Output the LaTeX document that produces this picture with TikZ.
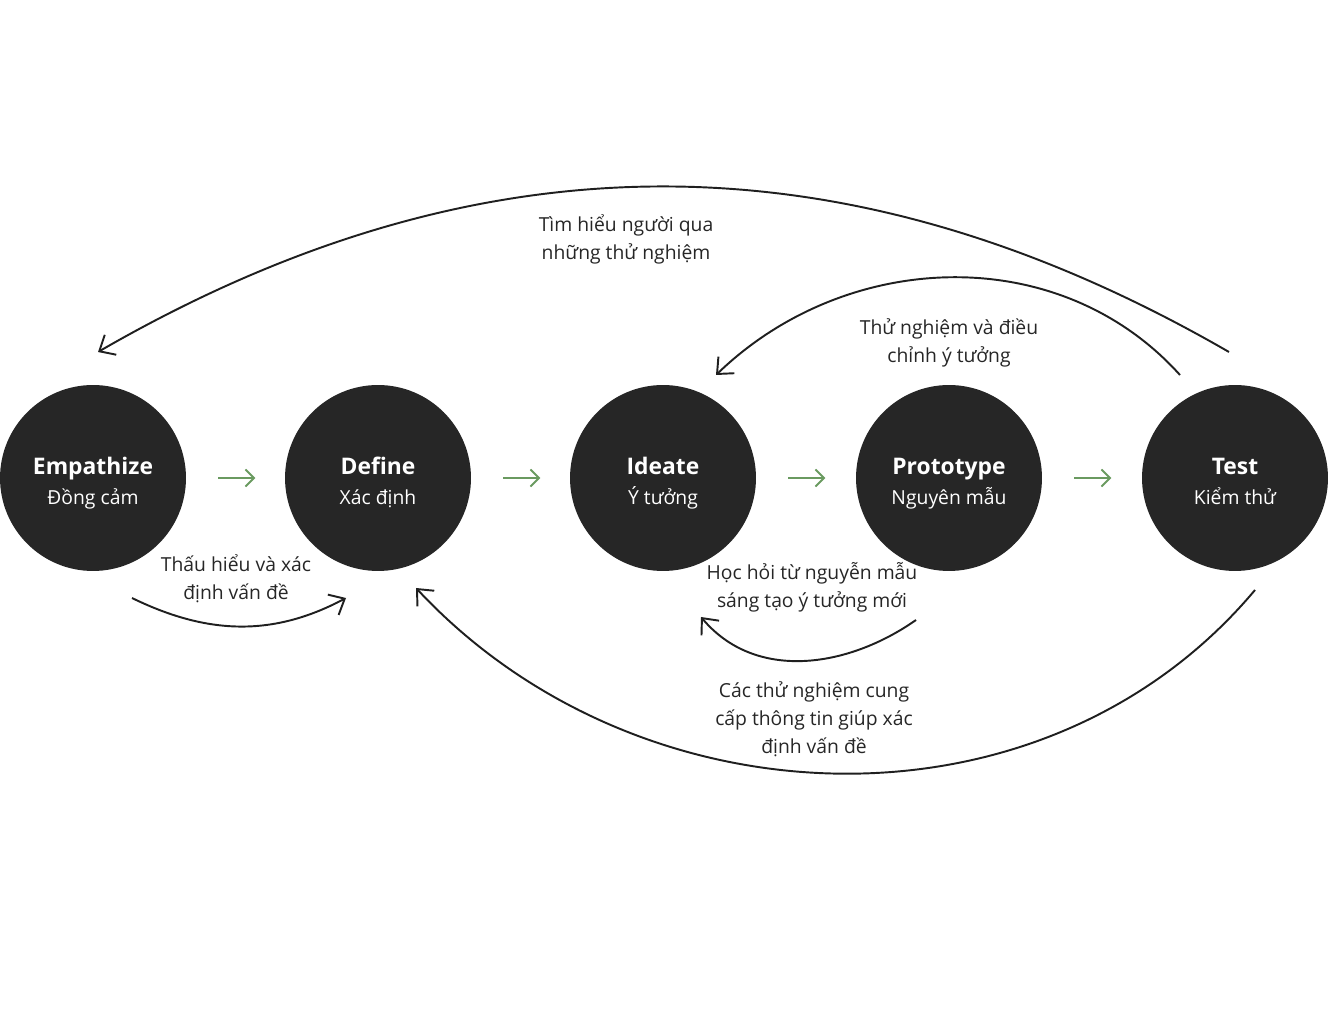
\documentclass[tikz,border=0pt]{standalone}
\usepackage{fontspec}
\setmainfont{Open Sans}
\usetikzlibrary{arrows.meta}
\definecolor{stage}{HTML}{262626}
\definecolor{flow}{HTML}{6A9A60}
\newcommand{\stagetext}[2]{\rule{0pt}{16.6pt}{\fontsize{13}{17.6}\selectfont\bfseries #1}\\#2\rule[-3.5pt]{0pt}{3.5pt}}
\tikzstyle{arrow} = [-{Straight Barb[length=2.6mm,width=4.6mm,line width=1.1pt]},line width=1.1pt,black!88]
\tikzstyle{step arrow} = [-{Straight Barb[length=1.7mm,width=3.4mm,line width=1.1pt]},line width=1.1pt,flow]
\tikzstyle{stage} = [circle,fill=stage,minimum size=3.72cm,inner sep=0pt,text=white,align=center,font=\fontsize{11}{17.6}\selectfont]
\tikzstyle{note} = [align=center,text=black!85,font=\fontsize{11}{16}\selectfont]

\begin{document}
\begin{tikzpicture}[x=0.02cm,y=-0.02cm]
        \useasboundingbox (0,0) rectangle (1329,1033);
        \node[stage] at (93,478) (emp) {\stagetext{Empathize}{Đồng cảm}};
        \node[stage] at (378,478) (def) {\stagetext{Define}{Xác định}};
        \node[stage] at (663,478) (ide) {\stagetext{Ideate}{Ý tưởng}};
        \node[stage] at (949,478) (pro) {\stagetext{Prototype}{Nguyên mẫu}};
        \node[stage] at (1235,478) (tes) {\stagetext{Test}{Kiểm thử}};

        \draw[step arrow] (emp.east) ++(32,0) -- ++(37,0);
        \draw[step arrow] (def.east) ++(32,0) -- ++(37,0);
        \draw[step arrow] (ide.east) ++(32,0) -- ++(37,0);
        \draw[step arrow] (pro.east) ++(32,0) -- ++(37,0);

        \coordinate (tes top) at (1229,352);
        \coordinate (emp top) at (98,352);
        \coordinate (tes mid) at (1180,375);
        \coordinate (ide top) at (716,375);
        \coordinate (emp low) at (132,598);
        \coordinate (def low) at (346,598);
        \coordinate (pro low) at (916,620);
        \coordinate (ide low) at (701,617);
        \coordinate (tes low) at (1255,590);
        \coordinate (def far) at (416,588);

        \draw[arrow] (tes top) to [out=150, in=30] (emp top);
        \draw[arrow] (tes mid) to [out=132, in=44] (ide top);
        \draw[arrow] (emp low) to [out=-26, in=-152] (def low);
        \draw[arrow] (pro low) to [out=-145, in=-50] (ide low);
        \draw[arrow] (tes low) to [out=-130, in=-47] (def far);

        \node[note] at (626,239) (l1) {Tìm hiểu người qua\\những thử nghiệm};
        \node[note] at (949,343) (l2) {Thử nghiệm và điều\\chỉnh ý tưởng};
        \node[note] at (236,579) (l3) {Thấu hiểu và xác\\định vấn đề};
        \node[note] at (812,587) (l4) {Học hỏi từ nguyễn mẫu\\sáng tạo ý tưởng mới};
        \node[note] at (814,719) (l5) {Các thử nghiệm cung\\cấp thông tin giúp xác\\định vấn đề};
\end{tikzpicture}
\end{document}
